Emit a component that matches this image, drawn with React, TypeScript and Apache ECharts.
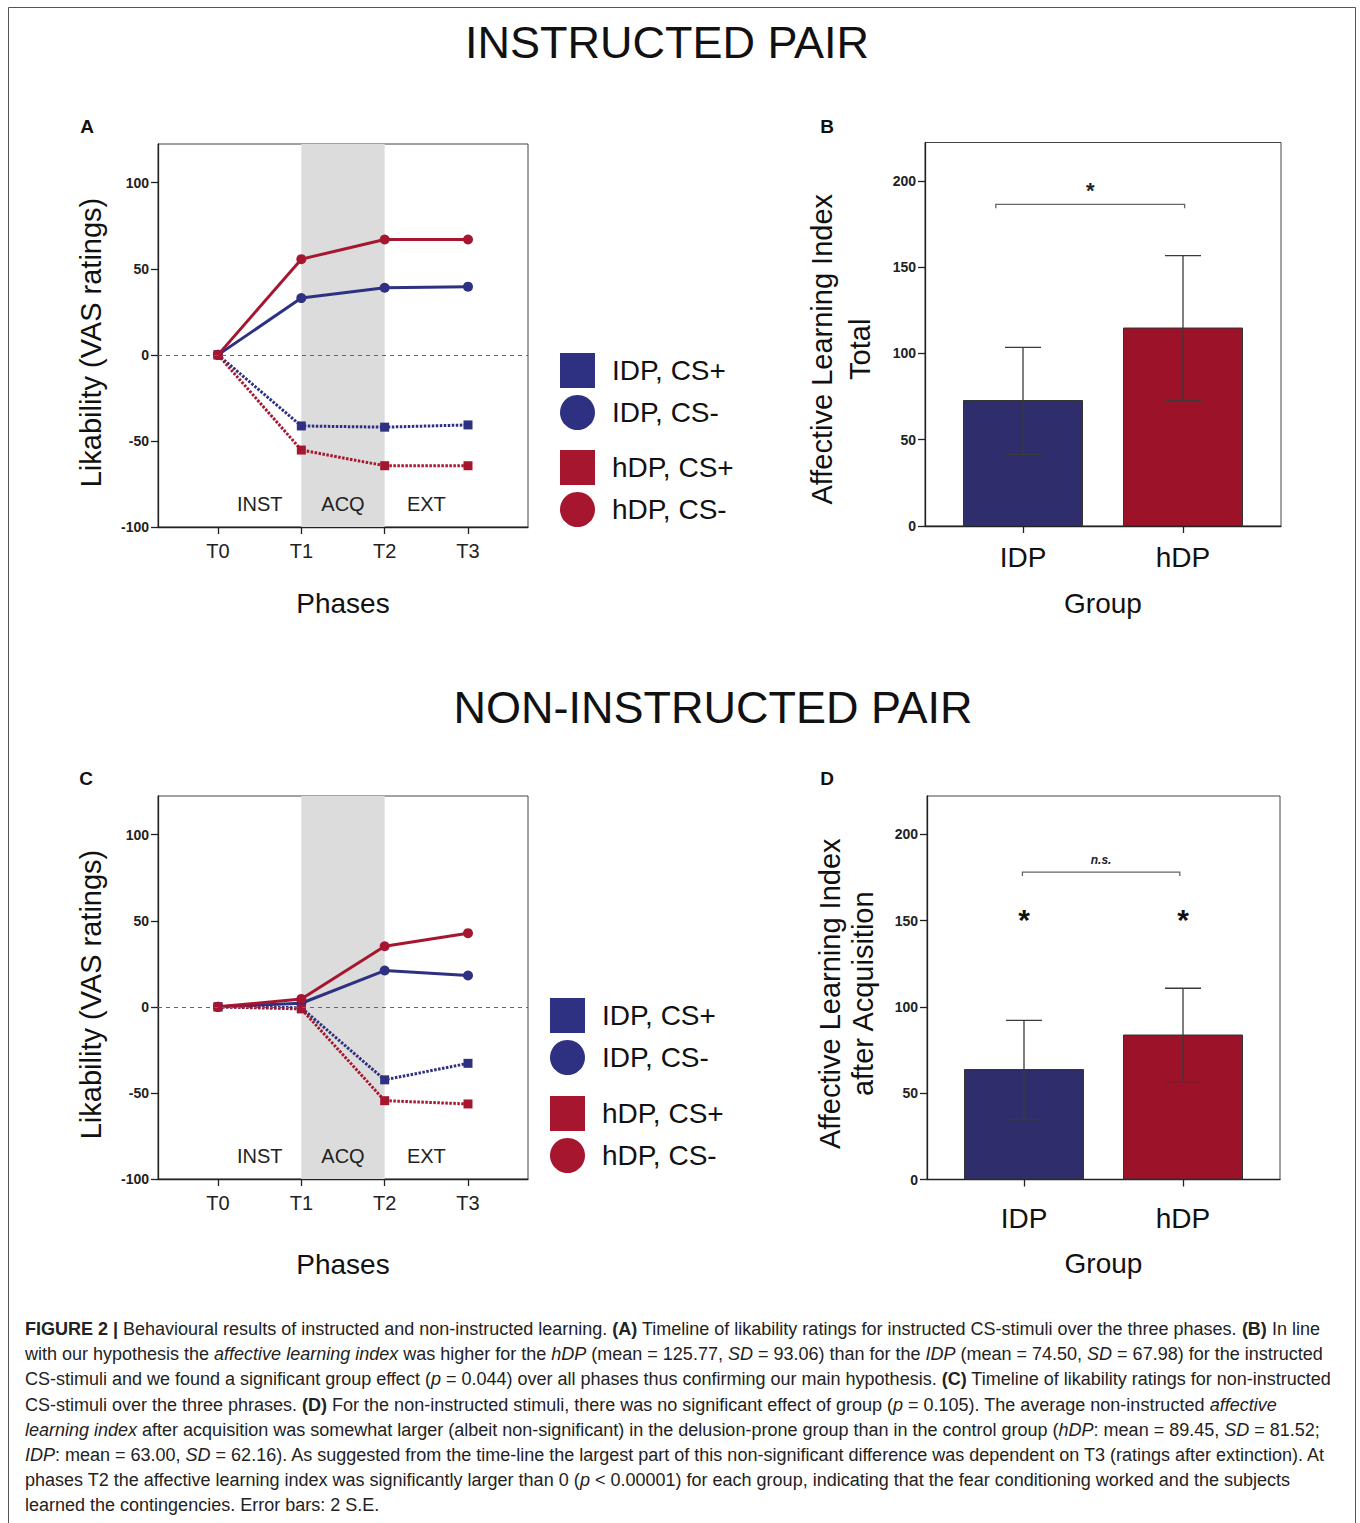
import React, { useEffect, useRef } from 'react';
import * as echarts from 'echarts';

// ---------- data ----------
const timePoints = ['T0', 'T1', 'T2', 'T3'];
const phaseNames = ['INST', 'ACQ', 'EXT'];
const shadedPhase = 'ACQ';
const legendNames = ['IDP, CS+', 'IDP, CS-', 'hDP, CS+', 'hDP, CS-'];

// Panel A: instructed pair
const instIdpCsPlus = [0, -41.3, -42.0, -40.7];
const instIdpCsMinus = [0, 33.0, 39.0, 39.6];
const instHdpCsPlus = [0, -55.3, -64.4, -64.4];
const instHdpCsMinus = [0, 55.6, 67.0, 67.0];

// Panel C: non-instructed pair
const nonIdpCsPlus = [0, -0.5, -42.4, -32.8];
const nonIdpCsMinus = [0, 2.1, 21.1, 18.2];
const nonHdpCsPlus = [0, -1.2, -54.5, -56.4];
const nonHdpCsMinus = [0, 4.6, 35.2, 42.8];

// Panels B and D: affective learning index
const groups = ['IDP', 'hDP'];
const aliTotal = [73, 115];
const aliTotalLow = [41.5, 72.8];
const aliTotalHigh = [103.5, 156.6];
const aliAcq = [64, 84];
const aliAcqLow = [34.5, 56.7];
const aliAcqHigh = [92.2, 110.8];

const lineYTicks = [-100, -50, 0, 50, 100];
const barYTicks = [0, 50, 100, 150, 200];

const captionLines = [
  '{b|FIGURE 2 |} Behavioural results of instructed and non-instructed learning. {b|(A)} Timeline of likability ratings for instructed CS-stimuli over the three phases. {b|(B)} In line',
  'with our hypothesis the {i|affective learning index} was higher for the {i|hDP} (mean = 125.77, {i|SD} = 93.06) than for the {i|IDP} (mean = 74.50, {i|SD} = 67.98) for the instructed',
  'CS-stimuli and we found a significant group effect ({i|p} = 0.044) over all phases thus confirming our main hypothesis. {b|(C)} Timeline of likability ratings for non-instructed',
  'CS-stimuli over the three phrases. {b|(D)} For the non-instructed stimuli, there was no significant effect of group ({i|p} = 0.105). The average non-instructed {i|affective}',
  '{i|learning index} after acquisition was somewhat larger (albeit non-significant) in the delusion-prone group than in the control group ({i|hDP}: mean = 89.45, {i|SD} = 81.52;',
  '{i|IDP}: mean = 63.00, {i|SD} = 62.16). As suggested from the time-line the largest part of this non-significant difference was dependent on T3 (ratings after extinction). At',
  'phases T2 the affective learning index was significantly larger than 0 ({i|p} < 0.00001) for each group, indicating that the fear conditioning worked and the subjects',
  'learned the contingencies. Error bars: 2 S.E.',
];

// ---------- styles ----------
const FONT = '"Liberation Sans", Arial, Helvetica, sans-serif';
const BLUE = '#2e3182';
const RED = '#a6162f';
const BAR_BLUE = '#302d6d';
const BAR_RED = '#9b1229';
const INK = '#111';
const CAP_SIZE = 18;

function lineSeries(name: string, values: number[], idx: number, color: string, dotted: boolean, extra: any = {}) {
  return {
    type: 'line',
    name,
    xAxisIndex: idx,
    yAxisIndex: idx,
    data: values.map((v, i) => [i, v]),
    symbol: dotted ? 'rect' : 'circle',
    symbolSize: dotted ? 9 : 10,
    itemStyle: { color },
    lineStyle: { color, width: 3, type: dotted ? [2.5, 1.5] : 'solid' },
    z: 3,
    silent: true,
    ...extra,
  };
}

function phaseMarkers() {
  return {
    markArea: {
      silent: true,
      z: 1,
      label: {
        show: true,
        position: 'insideBottom',
        distance: 13,
        fontSize: 20,
        fontFamily: FONT,
        color: '#222',
      },
      data: phaseNames.map((n, i) => [
        { name: n, xAxis: i, itemStyle: { color: n === shadedPhase ? '#dcdcdc' : 'rgba(0,0,0,0)' } },
        { xAxis: i + 1 },
      ]),
    },
    markLine: {
      silent: true,
      symbol: ['none', 'none'],
      label: { show: false },
      lineStyle: { color: '#666', width: 1, type: [4, 4] },
      data: [{ yAxis: 0 }],
    },
  };
}

const axisLineStyle = { color: '#222', width: 1.3 };

function lineXAxis(gridIndex: number, nameGap: number) {
  return {
    type: 'value',
    gridIndex,
    min: -0.72,
    max: 3.72,
    name: 'Phases',
    nameLocation: 'middle',
    nameGap,
    nameTextStyle: { fontSize: 28, fontFamily: FONT, color: INK },
    axisLine: { show: true, onZero: false, lineStyle: axisLineStyle },
    axisTick: { show: true, customValues: [0, 1, 2, 3], length: 7, lineStyle: axisLineStyle },
    axisLabel: {
      customValues: [0, 1, 2, 3],
      formatter: (v: number) => timePoints[Math.round(v)],
      fontSize: 20,
      fontFamily: FONT,
      color: '#222',
      margin: 14,
    },
    splitLine: { show: false },
  };
}

function lineYAxis(gridIndex: number) {
  return {
    type: 'value',
    gridIndex,
    min: -100,
    max: 122.5,
    name: 'Likability (VAS ratings)',
    nameLocation: 'middle',
    nameRotate: 90,
    nameGap: 53,
    nameTextStyle: { fontSize: 29, fontFamily: FONT, color: INK, padding: [0, 14, 0, 0] },
    axisLine: { show: true, onZero: false, lineStyle: axisLineStyle },
    axisTick: { show: true, customValues: lineYTicks, length: 7, lineStyle: axisLineStyle },
    axisLabel: {
      customValues: lineYTicks,
      fontSize: 14,
      fontWeight: 'bold',
      fontFamily: FONT,
      color: '#222',
      margin: 9,
    },
    splitLine: { show: false },
  };
}

function barXAxis(gridIndex: number, min: number, max: number, margin: number, nameGap: number) {
  return {
    type: 'value',
    gridIndex,
    min,
    max,
    name: 'Group',
    nameLocation: 'middle',
    nameGap,
    nameTextStyle: { fontSize: 28, fontFamily: FONT, color: INK },
    axisLine: { show: true, onZero: false, lineStyle: axisLineStyle },
    axisTick: { show: true, customValues: [0, 1], length: 7, lineStyle: axisLineStyle },
    axisLabel: {
      customValues: [0, 1],
      formatter: (v: number) => groups[Math.round(v)],
      fontSize: 28,
      fontFamily: FONT,
      color: INK,
      margin,
    },
    splitLine: { show: false },
  };
}

function barYAxis(gridIndex: number, name: string, nameGap: number, lineHeight: number, pad: number) {
  return {
    type: 'value',
    gridIndex,
    min: 0,
    max: 222.2,
    name,
    nameLocation: 'middle',
    nameRotate: 90,
    nameGap,
    nameTextStyle: { fontSize: 29, fontFamily: FONT, color: INK, lineHeight, padding: [0, pad, 0, 0] },
    axisLine: { show: true, onZero: false, lineStyle: axisLineStyle },
    axisTick: { show: true, customValues: barYTicks, length: 7, lineStyle: axisLineStyle },
    axisLabel: {
      customValues: barYTicks,
      fontSize: 14,
      fontWeight: 'bold',
      fontFamily: FONT,
      color: '#222',
      margin: 9,
    },
    splitLine: { show: false },
  };
}

function barSeries(idx: number, values: number[]) {
  const colors = [BAR_BLUE, BAR_RED];
  return {
    type: 'bar',
    xAxisIndex: idx,
    yAxisIndex: idx,
    barWidth: 120,
    silent: true,
    z: 2,
    data: values.map((v, i) => ({
      value: [i, v],
      itemStyle: { color: colors[i], borderColor: '#333', borderWidth: 1 },
    })),
  };
}

function errorSeries(idx: number, low: number[], high: number[]) {
  return {
    type: 'custom',
    xAxisIndex: idx,
    yAxisIndex: idx,
    z: 4,
    silent: true,
    data: groups.map((g, i) => [i, low[i], high[i]]),
    encode: { x: 0, y: [1, 2] },
    renderItem: (params: any, api: any) => {
      const x = api.value(0);
      const lo = api.coord([x, api.value(1)]);
      const hi = api.coord([x, api.value(2)]);
      const hw = 18;
      const st = { stroke: '#3a3a3a', lineWidth: 1.3 };
      return {
        type: 'group',
        children: [
          { type: 'line', shape: { x1: lo[0], y1: lo[1], x2: hi[0], y2: hi[1] }, style: st },
          { type: 'line', shape: { x1: lo[0] - hw, y1: lo[1], x2: lo[0] + hw, y2: lo[1] }, style: st },
          { type: 'line', shape: { x1: hi[0] - hw, y1: hi[1], x2: hi[0] + hw, y2: hi[1] }, style: st },
        ],
      };
    },
  };
}

function bracketSeries(idx: number, span: number[], yVal: number, label: string, font: any, labelOffset: number) {
  return {
    type: 'custom',
    xAxisIndex: idx,
    yAxisIndex: idx,
    z: 4,
    silent: true,
    data: [[span[0], span[1], yVal]],
    encode: { x: [0, 1], y: 2 },
    renderItem: (params: any, api: any) => {
      const a = api.coord([api.value(0), api.value(2)]);
      const b = api.coord([api.value(1), api.value(2)]);
      return {
        type: 'group',
        children: [
          {
            type: 'polyline',
            shape: { points: [[a[0], a[1] + 4], [a[0], a[1]], [b[0], b[1]], [b[0], b[1] + 4]] },
            style: { stroke: '#666', lineWidth: 1.3, fill: 'none' },
          },
          {
            type: 'text',
            x: (a[0] + b[0]) / 2,
            y: a[1] - labelOffset,
            style: { text: label, ...font, fill: '#222', align: 'center', verticalAlign: 'middle' },
          },
        ],
      };
    },
  };
}

function starSeries(idx: number, yVal: number) {
  return {
    type: 'custom',
    xAxisIndex: idx,
    yAxisIndex: idx,
    z: 4,
    silent: true,
    data: groups.map((g, i) => [i, yVal]),
    encode: { x: 0, y: 1 },
    renderItem: (params: any, api: any) => {
      const p = api.coord([api.value(0), api.value(1)]);
      return {
        type: 'text',
        x: p[0],
        y: p[1],
        style: {
          text: '*',
          fontSize: 30,
          fontWeight: 'bold',
          fontFamily: FONT,
          fill: '#111',
          align: 'center',
          verticalAlign: 'middle',
        },
      };
    },
  };
}

const legendBase = {
  orient: 'vertical',
  itemWidth: 35,
  itemHeight: 35,
  itemGap: 7,
  padding: 0,
  selectedMode: false,
  itemStyle: { borderWidth: 0 },
  textStyle: { fontSize: 28, fontFamily: FONT, color: INK, padding: [0, 0, 6, 12] },
};

function legendPair(left: number, top: number, a: number, b: number) {
  return {
    ...legendBase,
    left,
    top,
    data: [
      { name: legendNames[a], icon: 'rect' },
      { name: legendNames[b], icon: 'circle' },
    ],
  };
}

const captionRich = {
  b: { fontSize: CAP_SIZE, fontFamily: FONT, fontWeight: 'bold', fill: '#222' },
  i: { fontSize: CAP_SIZE, fontFamily: FONT, fontStyle: 'italic', fontWeight: 'normal', fill: '#222' },
};

function buildOption() {
  const gridBase = { show: true, borderColor: '#444', borderWidth: 1, backgroundColor: 'transparent', containLabel: false };
  const graphics: any[] = [
    {
      type: 'rect',
      shape: { x: 8.5, y: 7.5, width: 1347, height: 1530 },
      style: { fill: 'none', stroke: '#555', lineWidth: 1 },
      silent: true,
    },
    { type: 'text', x: 667, y: 42, style: { text: 'INSTRUCTED PAIR', fontSize: 45, fontFamily: FONT, fill: INK, align: 'center', verticalAlign: 'middle' } },
    { type: 'text', x: 713, y: 707, style: { text: 'NON-INSTRUCTED PAIR', fontSize: 45, fontFamily: FONT, fill: INK, align: 'center', verticalAlign: 'middle' } },
    { type: 'text', x: 87, y: 126, style: { text: 'A', fontSize: 19, fontWeight: 'bold', fontFamily: FONT, fill: INK, align: 'center', verticalAlign: 'middle' } },
    { type: 'text', x: 827, y: 126, style: { text: 'B', fontSize: 19, fontWeight: 'bold', fontFamily: FONT, fill: INK, align: 'center', verticalAlign: 'middle' } },
    { type: 'text', x: 86, y: 778, style: { text: 'C', fontSize: 19, fontWeight: 'bold', fontFamily: FONT, fill: INK, align: 'center', verticalAlign: 'middle' } },
    { type: 'text', x: 827, y: 778, style: { text: 'D', fontSize: 19, fontWeight: 'bold', fontFamily: FONT, fill: INK, align: 'center', verticalAlign: 'middle' } },
  ];
  captionLines.forEach((line, i) => {
    graphics.push({
      type: 'text',
      x: 25,
      y: 1329 + i * 25.2,
      style: {
        text: line,
        fontSize: CAP_SIZE,
        fontFamily: FONT,
        fill: '#222',
        align: 'left',
        verticalAlign: 'middle',
        rich: captionRich,
      },
    });
  });

  return {
    animation: false,
    backgroundColor: '#ffffff',
    grid: [
      { ...gridBase, left: 158, top: 144, width: 370, height: 383 },
      { ...gridBase, left: 925, top: 142.5, width: 356, height: 383.5 },
      { ...gridBase, left: 158, top: 796, width: 370, height: 383 },
      { ...gridBase, left: 927, top: 796, width: 353, height: 383.5 },
    ],
    xAxis: [
      lineXAxis(0, 62),
      barXAxis(1, -0.6125, 1.6125, 17, 63),
      lineXAxis(2, 71),
      barXAxis(3, -0.61, 1.61, 25, 70),
    ],
    yAxis: [
      lineYAxis(0),
      barYAxis(1, 'Affective Learning Index\nTotal', 46, 38, 30),
      lineYAxis(2),
      barYAxis(3, 'Affective Learning Index\nafter Acquisition', 48, 33, 12),
    ],
    legend: [
      legendPair(560, 353, 0, 1),
      legendPair(560, 450, 2, 3),
      legendPair(550, 998, 0, 1),
      legendPair(550, 1096, 2, 3),
    ],
    series: [
      lineSeries(legendNames[1], instIdpCsMinus, 0, BLUE, false, phaseMarkers()),
      lineSeries(legendNames[3], instHdpCsMinus, 0, RED, false),
      lineSeries(legendNames[0], instIdpCsPlus, 0, BLUE, true),
      lineSeries(legendNames[2], instHdpCsPlus, 0, RED, true),

      lineSeries(legendNames[1], nonIdpCsMinus, 2, BLUE, false, phaseMarkers()),
      lineSeries(legendNames[3], nonHdpCsMinus, 2, RED, false),
      lineSeries(legendNames[0], nonIdpCsPlus, 2, BLUE, true),
      lineSeries(legendNames[2], nonHdpCsPlus, 2, RED, true),

      barSeries(1, aliTotal),
      errorSeries(1, aliTotalLow, aliTotalHigh),
      bracketSeries(1, [-0.17, 1.01], 186.4, '*', { fontSize: 22, fontWeight: 'bold', fontFamily: FONT }, 14),

      barSeries(3, aliAcq),
      errorSeries(3, aliAcqLow, aliAcqHigh),
      bracketSeries(3, [-0.01, 0.98], 178.1, 'n.s.', { fontSize: 12, fontWeight: 'bold', fontStyle: 'italic', fontFamily: FONT }, 12),
      starSeries(3, 150.5),
    ],
    graphic: graphics,
  };
}

export default function App() {
  const ref = useRef<HTMLDivElement>(null);
  useEffect(() => {
    if (!ref.current) return;
    const chart = echarts.init(ref.current, undefined, { renderer: 'svg' });
    chart.setOption(buildOption() as any);
    return () => chart.dispose();
  }, []);
  return (
    <div
      ref={ref}
      style={{ position: 'absolute', left: 0, top: 0, width: 1360, height: 1523, background: '#fff' }}
    />
  );
}
